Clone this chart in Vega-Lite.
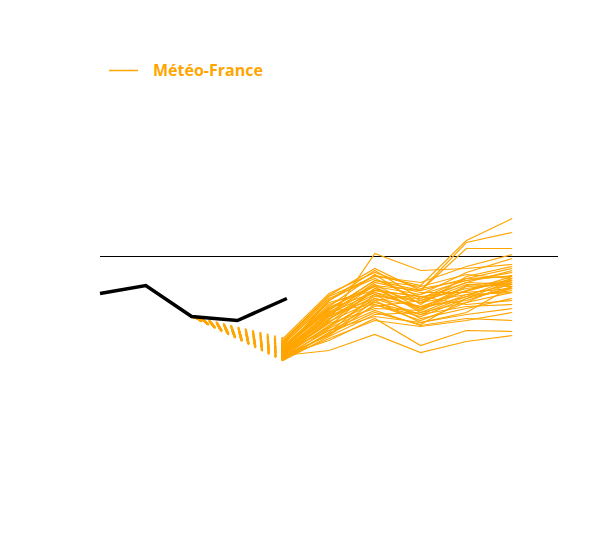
{
  "$schema": "https://vega.github.io/schema/vega-lite/v6.json",
  "width": 600,
  "height": 540,
  "autosize": {"type": "none"},
  "padding": 0,
  "background": "white",
  "config": {"view": {"stroke": null}},
  "datasets": {
    "obs": [
      {"t": 0, "v": -3.7},
      {"t": 1, "v": -2.9},
      {"t": 2, "v": -6.0},
      {"t": 3, "v": -6.4},
      {"t": 4.08, "v": -4.2}
    ],
    "members": [
      {"m": 1, "t": 4, "v": -9.9}, {"m": 1, "t": 5, "v": -6.4}, {"m": 1, "t": 6, "v": 0.3}, {"m": 1, "t": 7, "v": -1.4}, {"m": 1, "t": 8, "v": -1.2}, {"m": 1, "t": 9, "v": -0.8},
      {"m": 2, "t": 4, "v": -9.4}, {"m": 2, "t": 5, "v": -4.4}, {"m": 2, "t": 6, "v": -1.9}, {"m": 2, "t": 7, "v": -2.9}, {"m": 2, "t": 8, "v": 1.6}, {"m": 2, "t": 9, "v": 3.8},
      {"m": 3, "t": 4, "v": -8.9}, {"m": 3, "t": 5, "v": -5.4}, {"m": 3, "t": 6, "v": -2.4}, {"m": 3, "t": 7, "v": -3.4}, {"m": 3, "t": 8, "v": 1.4}, {"m": 3, "t": 9, "v": 2.4},
      {"m": 4, "t": 4, "v": -9.6}, {"m": 4, "t": 5, "v": -5.9}, {"m": 4, "t": 6, "v": -2.9}, {"m": 4, "t": 7, "v": -3.4}, {"m": 4, "t": 8, "v": 0.8}, {"m": 4, "t": 9, "v": 0.8},
      {"m": 5, "t": 4, "v": -9.9}, {"m": 5, "t": 5, "v": -9.4}, {"m": 5, "t": 6, "v": -7.8}, {"m": 5, "t": 7, "v": -9.6}, {"m": 5, "t": 8, "v": -8.5}, {"m": 5, "t": 9, "v": -7.9},
      {"m": 6, "t": 4, "v": -9.9}, {"m": 6, "t": 5, "v": -8.4}, {"m": 6, "t": 6, "v": -6.2}, {"m": 6, "t": 7, "v": -8.9}, {"m": 6, "t": 8, "v": -7.4}, {"m": 6, "t": 9, "v": -7.5},
      {"m": 7, "t": 4, "v": -9.4}, {"m": 7, "t": 5, "v": -7.4}, {"m": 7, "t": 6, "v": -5.4}, {"m": 7, "t": 7, "v": -6.9}, {"m": 7, "t": 8, "v": -6.2}, {"m": 7, "t": 9, "v": -6.4},
      {"m": 8, "t": 4, "v": -8.2}, {"m": 8, "t": 5, "v": -3.7}, {"m": 8, "t": 6, "v": -1.6}, {"m": 8, "t": 7, "v": -3.2}, {"m": 8, "t": 8, "v": -2.4}, {"m": 8, "t": 9, "v": -1.9},
      {"m": 9, "t": 4, "v": -8.6}, {"m": 9, "t": 5, "v": -4.2}, {"m": 9, "t": 6, "v": -2.2}, {"m": 9, "t": 7, "v": -4.4}, {"m": 9, "t": 8, "v": -3.2}, {"m": 9, "t": 9, "v": -2.6},
      {"m": 10, "t": 4, "v": -9.0}, {"m": 10, "t": 5, "v": -4.8}, {"m": 10, "t": 6, "v": -3.0}, {"m": 10, "t": 7, "v": -3.8}, {"m": 10, "t": 8, "v": -1.6}, {"m": 10, "t": 9, "v": -0.2},
      {"m": 11, "t": 4, "v": -9.2}, {"m": 11, "t": 5, "v": -5.2}, {"m": 11, "t": 6, "v": -3.6}, {"m": 11, "t": 7, "v": -4.6}, {"m": 11, "t": 8, "v": -3.8}, {"m": 11, "t": 9, "v": -2.8},
      {"m": 12, "t": 4, "v": -9.5}, {"m": 12, "t": 5, "v": -5.6}, {"m": 12, "t": 6, "v": -2.8}, {"m": 12, "t": 7, "v": -5.2}, {"m": 12, "t": 8, "v": -2.9}, {"m": 12, "t": 9, "v": -2.4},
      {"m": 13, "t": 4, "v": -9.7}, {"m": 13, "t": 5, "v": -6.0}, {"m": 13, "t": 6, "v": -4.2}, {"m": 13, "t": 7, "v": -5.0}, {"m": 13, "t": 8, "v": -4.4}, {"m": 13, "t": 9, "v": -3.0},
      {"m": 14, "t": 4, "v": -9.8}, {"m": 14, "t": 5, "v": -6.6}, {"m": 14, "t": 6, "v": -3.4}, {"m": 14, "t": 7, "v": -4.0}, {"m": 14, "t": 8, "v": -3.5}, {"m": 14, "t": 9, "v": -2.2},
      {"m": 15, "t": 4, "v": -10.0}, {"m": 15, "t": 5, "v": -6.9}, {"m": 15, "t": 6, "v": -4.6}, {"m": 15, "t": 7, "v": -5.8}, {"m": 15, "t": 8, "v": -4.0}, {"m": 15, "t": 9, "v": -3.4},
      {"m": 16, "t": 4, "v": -10.2}, {"m": 16, "t": 5, "v": -7.2}, {"m": 16, "t": 6, "v": -5.0}, {"m": 16, "t": 7, "v": -4.4}, {"m": 16, "t": 8, "v": -2.6}, {"m": 16, "t": 9, "v": -1.4},
      {"m": 17, "t": 4, "v": -10.3}, {"m": 17, "t": 5, "v": -7.6}, {"m": 17, "t": 6, "v": -3.8}, {"m": 17, "t": 7, "v": -6.2}, {"m": 17, "t": 8, "v": -5.2}, {"m": 17, "t": 9, "v": -4.2},
      {"m": 18, "t": 4, "v": -10.4}, {"m": 18, "t": 5, "v": -8.0}, {"m": 18, "t": 6, "v": -5.8}, {"m": 18, "t": 7, "v": -5.6}, {"m": 18, "t": 8, "v": -4.6}, {"m": 18, "t": 9, "v": -2.6},
      {"m": 19, "t": 4, "v": -10.1}, {"m": 19, "t": 5, "v": -7.8}, {"m": 19, "t": 6, "v": -4.4}, {"m": 19, "t": 7, "v": -6.6}, {"m": 19, "t": 8, "v": -5.6}, {"m": 19, "t": 9, "v": -3.0},
      {"m": 20, "t": 4, "v": -9.8}, {"m": 20, "t": 5, "v": -7.0}, {"m": 20, "t": 6, "v": -3.2}, {"m": 20, "t": 7, "v": -5.4}, {"m": 20, "t": 8, "v": -3.0}, {"m": 20, "t": 9, "v": -2.8},
      {"m": 21, "t": 4, "v": -9.6}, {"m": 21, "t": 5, "v": -6.2}, {"m": 21, "t": 6, "v": -4.0}, {"m": 21, "t": 7, "v": -4.2}, {"m": 21, "t": 8, "v": -2.2}, {"m": 21, "t": 9, "v": -2.0},
      {"m": 22, "t": 4, "v": -9.3}, {"m": 22, "t": 5, "v": -5.8}, {"m": 22, "t": 6, "v": -2.6}, {"m": 22, "t": 7, "v": -3.6}, {"m": 22, "t": 8, "v": -3.6}, {"m": 22, "t": 9, "v": -3.2},
      {"m": 23, "t": 4, "v": -9.0}, {"m": 23, "t": 5, "v": -5.0}, {"m": 23, "t": 6, "v": -1.8}, {"m": 23, "t": 7, "v": -4.8}, {"m": 23, "t": 8, "v": -2.0}, {"m": 23, "t": 9, "v": -1.0},
      {"m": 24, "t": 4, "v": -8.7}, {"m": 24, "t": 5, "v": -4.6}, {"m": 24, "t": 6, "v": -3.4}, {"m": 24, "t": 7, "v": -4.0}, {"m": 24, "t": 8, "v": -4.8}, {"m": 24, "t": 9, "v": -4.4},
      {"m": 25, "t": 4, "v": -8.5}, {"m": 25, "t": 5, "v": -4.0}, {"m": 25, "t": 6, "v": -2.0}, {"m": 25, "t": 7, "v": -2.6}, {"m": 25, "t": 8, "v": -1.0}, {"m": 25, "t": 9, "v": 0.2},
      {"m": 26, "t": 4, "v": -9.1}, {"m": 26, "t": 5, "v": -5.5}, {"m": 26, "t": 6, "v": -4.8}, {"m": 26, "t": 7, "v": -6.0}, {"m": 26, "t": 8, "v": -4.2}, {"m": 26, "t": 9, "v": -2.4},
      {"m": 27, "t": 4, "v": -9.7}, {"m": 27, "t": 5, "v": -6.7}, {"m": 27, "t": 6, "v": -5.2}, {"m": 27, "t": 7, "v": -5.4}, {"m": 27, "t": 8, "v": -3.4}, {"m": 27, "t": 9, "v": -2.0},
      {"m": 28, "t": 4, "v": -10.0}, {"m": 28, "t": 5, "v": -7.4}, {"m": 28, "t": 6, "v": -6.0}, {"m": 28, "t": 7, "v": -6.6}, {"m": 28, "t": 8, "v": -5.8}, {"m": 28, "t": 9, "v": -5.2},
      {"m": 29, "t": 4, "v": -10.2}, {"m": 29, "t": 5, "v": -8.2}, {"m": 29, "t": 6, "v": -6.4}, {"m": 29, "t": 7, "v": -7.0}, {"m": 29, "t": 8, "v": -6.4}, {"m": 29, "t": 9, "v": -5.6},
      {"m": 30, "t": 4, "v": -9.9}, {"m": 30, "t": 5, "v": -7.9}, {"m": 30, "t": 6, "v": -4.8}, {"m": 30, "t": 7, "v": -6.4}, {"m": 30, "t": 8, "v": -4.6}, {"m": 30, "t": 9, "v": -3.6},
      {"m": 31, "t": 4, "v": -9.5}, {"m": 31, "t": 5, "v": -6.3}, {"m": 31, "t": 6, "v": -3.2}, {"m": 31, "t": 7, "v": -4.6}, {"m": 31, "t": 8, "v": -2.8}, {"m": 31, "t": 9, "v": -3.0},
      {"m": 32, "t": 4, "v": -9.2}, {"m": 32, "t": 5, "v": -5.3}, {"m": 32, "t": 6, "v": -2.4}, {"m": 32, "t": 7, "v": -3.0}, {"m": 32, "t": 8, "v": -1.8}, {"m": 32, "t": 9, "v": -2.2},
      {"m": 33, "t": 4, "v": -8.8}, {"m": 33, "t": 5, "v": -4.4}, {"m": 33, "t": 6, "v": -1.4}, {"m": 33, "t": 7, "v": -4.2}, {"m": 33, "t": 8, "v": -2.6}, {"m": 33, "t": 9, "v": -2.8},
      {"m": 34, "t": 4, "v": -9.4}, {"m": 34, "t": 5, "v": -6.0}, {"m": 34, "t": 6, "v": -3.8}, {"m": 34, "t": 7, "v": -5.0}, {"m": 34, "t": 8, "v": -3.4}, {"m": 34, "t": 9, "v": -2.4},
      {"m": 35, "t": 4, "v": -9.8}, {"m": 35, "t": 5, "v": -7.1}, {"m": 35, "t": 6, "v": -4.2}, {"m": 35, "t": 7, "v": -5.8}, {"m": 35, "t": 8, "v": -5.0}, {"m": 35, "t": 9, "v": -4.8},
      {"m": 36, "t": 4, "v": -10.3}, {"m": 36, "t": 5, "v": -7.7}, {"m": 36, "t": 6, "v": -5.6}, {"m": 36, "t": 7, "v": -6.8}, {"m": 36, "t": 8, "v": -4.2}, {"m": 36, "t": 9, "v": -3.2},
      {"m": 37, "t": 4, "v": -9.6}, {"m": 37, "t": 5, "v": -6.5}, {"m": 37, "t": 6, "v": -4.4}, {"m": 37, "t": 7, "v": -3.8}, {"m": 37, "t": 8, "v": -2.4}, {"m": 37, "t": 9, "v": -1.6},
      {"m": 38, "t": 4, "v": -9.0}, {"m": 38, "t": 5, "v": -5.1}, {"m": 38, "t": 6, "v": -3.0}, {"m": 38, "t": 7, "v": -5.6}, {"m": 38, "t": 8, "v": -3.8}, {"m": 38, "t": 9, "v": -3.6},
      {"m": 39, "t": 4, "v": -8.4}, {"m": 39, "t": 5, "v": -3.9}, {"m": 39, "t": 6, "v": -1.2}, {"m": 39, "t": 7, "v": -3.4}, {"m": 39, "t": 8, "v": -2.2}, {"m": 39, "t": 9, "v": -1.2},
      {"m": 40, "t": 4, "v": -9.3}, {"m": 40, "t": 5, "v": -5.7}, {"m": 40, "t": 6, "v": -3.6}, {"m": 40, "t": 7, "v": -5.2}, {"m": 40, "t": 8, "v": -4.0}, {"m": 40, "t": 9, "v": -2.2}
    ]
  },
  "layer": [
    {
      "data": {"values": [{"from": 0, "to": 10, "level": 0}]},
      "mark": {"type": "rule", "color": "black", "strokeWidth": 1},
      "encoding": {
        "x": {"field": "from", "type": "quantitative", "scale": {"domain": [0, 10], "range": [100, 558], "nice": false, "zero": false}, "axis": null},
        "x2": {"field": "to"},
        "y": {"field": "level", "type": "quantitative", "scale": {"domain": [-28.35, 25.65], "nice": false, "zero": false}, "axis": null}
      }
    },
    {
      "data": {"name": "members"},
      "transform": [{"filter": "datum.t == 4"}],
      "mark": {"type": "rule", "color": "orange", "strokeWidth": 2, "strokeDash": [2, 5.5]},
      "encoding": {
        "x": {"field": "t", "type": "quantitative"},
        "x2": {"datum": 2},
        "y": {"field": "v", "type": "quantitative"},
        "y2": {"datum": -6.0}
      }
    },
    {
      "data": {"name": "members"},
      "mark": {"type": "line", "strokeWidth": 1.2},
      "encoding": {
        "x": {"field": "t", "type": "quantitative"},
        "y": {"field": "v", "type": "quantitative"},
        "detail": {"field": "m", "type": "nominal"},
        "color": {
          "datum": "Météo-France",
          "scale": {"range": ["orange"]},
          "legend": {
            "title": null,
            "orient": "none",
            "legendX": 108,
            "legendY": 55,
            "symbolType": "stroke",
            "symbolSize": 841,
            "symbolStrokeWidth": 1.5,
            "labelColor": "orange",
            "labelFont": "Open Sans",
            "labelFontWeight": "bold",
            "labelFontSize": 16,
            "labelOffset": 14
          }
        }
      }
    },
    {
      "data": {"name": "obs"},
      "mark": {"type": "line", "color": "black", "strokeWidth": 3.5},
      "encoding": {
        "x": {"field": "t", "type": "quantitative"},
        "y": {"field": "v", "type": "quantitative"}
      }
    }
  ]
}
